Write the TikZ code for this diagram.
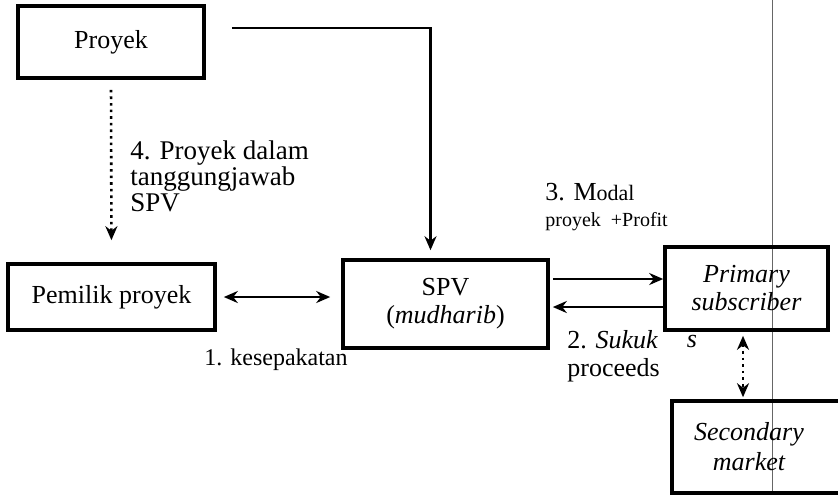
\documentclass[tikz,border=0pt]{standalone}
\usepackage{fontspec}
\setmainfont{Liberation Serif}
\usetikzlibrary{arrows.meta,positioning}
\begin{document}
\begin{tikzpicture}[line cap=butt,line join=miter,>={Stealth[length=7pt,width=6pt]},x=0.5pt,y=-0.5pt,font=\fontsize{13}{14}\selectfont]
	\tikzset{hop/.style={draw,line width=1.8pt,inner sep=2pt,align=center},
		mui/.style={line width=1.3pt},
		nhan/.style={inner sep=0pt,align=left}}
	\useasboundingbox (0,0) rectangle (838,495);
	\clip (0,0) rectangle (838,495);
	\draw[black!60,very thin] (772,0)--(772,495); % le giay
	% cac khoi
	\node[hop,minimum width=93pt,minimum height=36pt] (proyek) at (111,42) {Proyek};
	\node[hop,minimum width=103.5pt,minimum height=33pt] (pemilik) at (111.5,297) {Pemilik proyek};
	\node[hop,minimum width=102.5pt,minimum height=44pt] (spv) at (445.5,304) {SPV\\(\textit{mudharib})};
	\node[hop,minimum width=81.5pt,minimum height=41.5pt,font=\fontsize{13}{14}\selectfont\itshape] (primary) at (746.5,288.5) {Primary\\subscriber};
	\node[hop,minimum width=87pt,minimum height=46pt,font=\fontsize{13}{15}\selectfont\itshape] (secondary) at (759,447) {Secondary\hspace*{10pt}\\market\hspace*{10pt}};
	% cac nhan
	\node[nhan,anchor=north west,font=\fontsize{13.5}{13}\selectfont] (lbl4) at (130,140) {4. Proyek dalam\\tanggungjawab\\SPV};
	\node[nhan,anchor=north west] (lbl3) at (545,183) {3. M{\fontsize{11}{12}\selectfont odal}\\[-1pt]{\fontsize{10}{11}\selectfont proyek~~+Profit}};
	\node[nhan,anchor=north west] (lbl2) at (567,330) {2. \textit{Sukuk}\\proceeds};
	\node[nhan,font=\fontsize{12}{13}\selectfont] (lbl1) at (276,360) {1. kesepakatan};
	\node[nhan] (ekor) at (692,341) {\textit{s}};
	% cac mui ten
	\draw[->,mui,shorten >=4pt] ([shift={(13pt,7pt)}]proyek.east) -| ([xshift=-7.5pt]spv.north);
	\draw[->,mui,dotted,shorten <=5pt,shorten >=11pt] (proyek.south) -- (pemilik.north);
	\draw[<->,mui,shorten <=3.5pt,shorten >=5.5pt] (pemilik.east) -- (pemilik.east -| spv.west);
	\draw[->,mui,shorten <=1.5pt] ([yshift=12.5pt]spv.east) -- ([yshift=12.5pt]spv.east -| primary.west);
	\draw[<-,mui,shorten <=1.5pt] ([yshift=-1.5pt]spv.east) -- ([yshift=-1.5pt]spv.east -| primary.west);
	\draw[<->,mui,dotted,shorten <=2pt,shorten >=1pt] ([xshift=-1.75pt]primary.south) -- ([xshift=-1.75pt]primary.south |- secondary.north);
\end{tikzpicture}
\end{document}
